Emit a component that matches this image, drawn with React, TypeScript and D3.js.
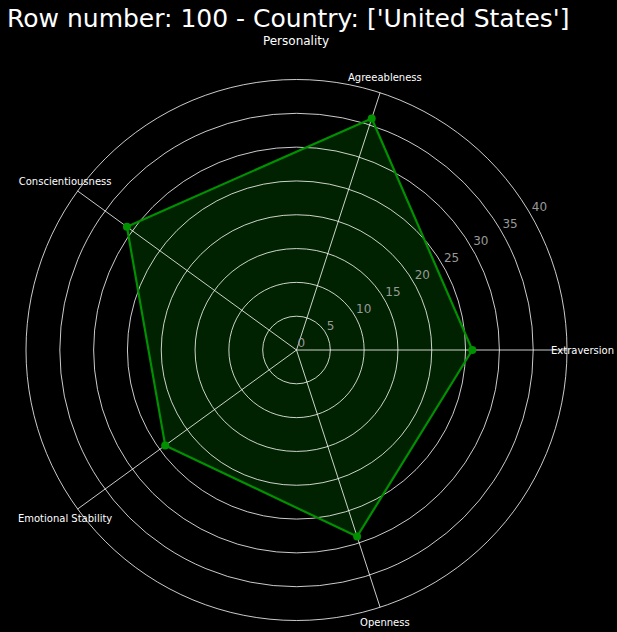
import React from "react";
import * as d3 from "d3";

const categories = ["Extraversion", "Agreeableness", "Conscientiousness", "Emotional Stability", "Openness"];
const values = [26, 36, 31, 24, 29];
const rTicks = [0, 5, 10, 15, 20, 25, 30, 35, 40];
const gridRings = [5, 10, 15, 20, 25, 30, 35, 40];
const titleText = "Row number: 100 - Country: ['United States']";
const subtitleText = "Personality";

const W = 617, H = 632;
const cx = 296.5, cy = 350, R = 270.5;

export default function App() {
  const r = d3.scaleLinear().domain([0, 40]).range([0, R]);
  const angle = d3.scaleLinear().domain([0, categories.length]).range([0, 2 * Math.PI]);
  const pt = (i: number, v: number): [number, number] => {
    const a = angle(i);
    return [cx + r(v) * Math.cos(a), cy - r(v) * Math.sin(a)];
  };
  const pts = values.map((v, i) => pt(i, v));
  const path = d3.line()(pts.concat([pts[0]])) + "Z";
  const la = (30 * Math.PI) / 180;
  const font = "DejaVu Sans, sans-serif";
  return (
    <svg width={W} height={H} style={{ position: "absolute", left: 0, top: 0, background: "#000" }}>
      <rect x={0} y={0} width={W} height={H} fill="#000" />
      <path d={path} fill="rgb(0,34,0)" stroke="none" />
      {gridRings.map((t) => (
        <circle key={t} cx={cx} cy={cy} r={r(t)} fill="none" stroke="#ffffff" strokeWidth={0.8} />
      ))}
      {categories.map((c, i) => {
        const [x, y] = pt(i, 40);
        return <line key={c} x1={cx} y1={cy} x2={x} y2={y} stroke="#ffffff" strokeWidth={0.8} />;
      })}
      <path d={path} fill="none" stroke="#009000" strokeWidth={2.2} strokeLinejoin="round" />
      {pts.map((p, i) => (
        <circle key={i} cx={p[0]} cy={p[1]} r={4} fill="#009000" />
      ))}
      {rTicks.map((t) => (
        <text
          key={t}
          x={cx + 1 + r(t) * Math.cos(la)}
          y={cy - 7.3 - r(t) * Math.sin(la)}
          fill="#999999"
          fontSize={12}
          fontFamily={font}
          dominantBaseline="central"
        >
          {t}
        </text>
      ))}
      {categories.map((c, i) => {
        const a = angle(i);
        const rr = R + 15.5;
        return (
          <text
            key={c}
            x={cx + rr * Math.cos(a)}
            y={cy - rr * Math.sin(a)}
            fill="#ffffff"
            fontSize={10}
            fontFamily={font}
            textAnchor="middle"
            dominantBaseline="central"
          >
            {c}
          </text>
        );
      })}
      <text x={7} y={27} fill="#ffffff" fontSize={25} fontFamily={font}>
        {titleText}
      </text>
      <text x={296} y={45} fill="#ffffff" fontSize={12} fontFamily={font} textAnchor="middle">
        {subtitleText}
      </text>
    </svg>
  );
}
